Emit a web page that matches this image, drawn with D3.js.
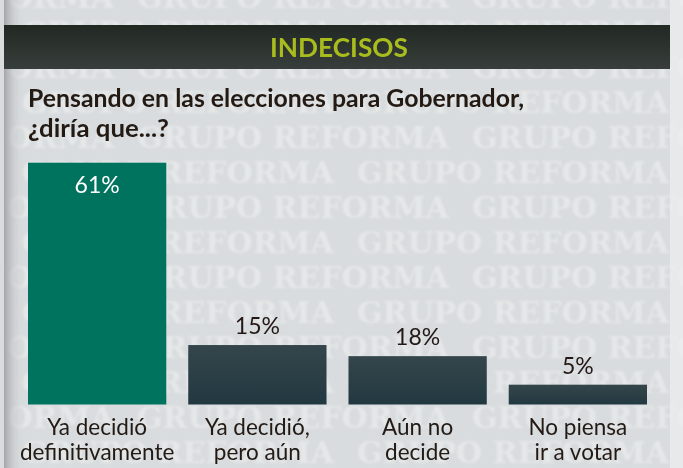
<!DOCTYPE html>
<html>
<head>
<meta charset="utf-8">
<script src="https://cdn.jsdelivr.net/npm/d3@7"></script>
<style>
  html, body { margin: 0; padding: 0; background: #dadddf; }
  svg { display: block; }
</style>
</head>
<body>
<div id="chart"></div>
<script>
// chart data
var categories = [
    ["Ya decidió", "definitivamente"],
    ["Ya decidió,", "pero aún", "podría cambiar"],
    ["Aún no", "decide", "por quién"],
    ["No piensa", "ir a votar"]
];
var percentLabels = ["61%", "15%", "18%", "5%"];
// bar lengths as printed (the 18% bar is drawn shorter in the source graphic)
var barValues = [61, 15, 12.2, 5];
var title = "INDECISOS";
var subtitle = ["Pensando en las elecciones para Gobernador,", "¿diría que...?"];
var watermark = "GRUPO REFORMA";

var width = 683, height = 468;

var svg = d3.select("#chart").append("svg")
    .attr("width", width)
    .attr("height", height);

var defs = svg.append("defs");

var hdrGrad = defs.append("linearGradient").attr("id", "hdrGrad")
    .attr("x1", 0).attr("y1", 0).attr("x2", 0).attr("y2", 1);
hdrGrad.append("stop").attr("offset", "0%").attr("stop-color", "#222822");
hdrGrad.append("stop").attr("offset", "100%").attr("stop-color", "#383e3b");

var barGrad = defs.append("linearGradient").attr("id", "barGrad")
    .attr("x1", 0).attr("y1", 0).attr("x2", 0).attr("y2", 1);
barGrad.append("stop").attr("offset", "0%").attr("stop-color", "#34464b");
barGrad.append("stop").attr("offset", "100%").attr("stop-color", "#223840");

var shadow = defs.append("linearGradient").attr("id", "shadow")
    .attr("x1", 0).attr("y1", 0).attr("x2", 1).attr("y2", 0);
shadow.append("stop").attr("offset", "0%").attr("stop-color", "#a4a6a8").attr("stop-opacity", 1);
shadow.append("stop").attr("offset", "100%").attr("stop-color", "#dadddf").attr("stop-opacity", 0);

defs.append("filter").attr("id", "soft")
    .append("feGaussianBlur").attr("stdDeviation", 1.1);

// background
svg.append("rect").attr("width", width).attr("height", height).attr("fill", "#d9dcde");

// watermark rows
var wm = svg.append("g").attr("filter", "url(#soft)");
for (var r = -5; r < 10; r++) {
    var cy = 172 + r * 35;
    var offset = (r % 2 === 0) ? 22 : 137;
    for (var x0 = offset - 335; x0 < width; x0 += 335) {
        wm.append("text")
            .attr("x", x0)
            .attr("y", cy + 11)
            .attr("textLength", 312)
            .attr("lengthAdjust", "spacingAndGlyphs")
            .style("font-family", "'DejaVu Serif', serif")
            .style("font-weight", "bold")
            .style("font-size", "30px")
            .style("fill", "#f2f3f4")
            .style("opacity", 0.5)
            .text(watermark);
    }
}

// page edges
svg.append("rect").attr("x", 0).attr("width", 4).attr("height", height).attr("fill", "#d9dbdd");
svg.append("rect").attr("x", 4).attr("width", 20).attr("height", height).attr("fill", "url(#shadow)");
svg.append("rect").attr("x", 670).attr("width", 13).attr("height", height)
    .attr("fill", "#eceef0").attr("opacity", 0.7);

// header band
svg.append("rect")
    .attr("x", 4).attr("y", 25)
    .attr("width", 666).attr("height", 44)
    .attr("fill", "url(#hdrGrad)");

function fitText(sel, len) {
    sel.attr("textLength", len).attr("lengthAdjust", "spacingAndGlyphs");
}

svg.append("text")
    .attr("x", 270).attr("y", 57)
    .style("font-family", "Lato, sans-serif")
    .style("font-weight", "bold")
    .style("font-size", "26px")
    .style("fill", "#a8bc1e")
    .call(fitText, 138)
    .text(title);

// subtitle
var subLens = [496, 141];
subtitle.forEach(function(line, i) {
    svg.append("text")
        .attr("x", 28).attr("y", 107 + i * 30)
        .style("font-family", "Lato, sans-serif")
        .style("font-weight", "bold")
        .style("font-size", "25px")
        .style("fill", "#231a14")
        .call(fitText, subLens[i])
        .text(line);
});

// scales
var x = d3.scaleBand()
    .domain(d3.range(categories.length))
    .range([28, 647])
    .paddingInner(0.137)
    .paddingOuter(0);

var y = d3.scaleLinear()
    .domain([0, 61])
    .range([404.5, 162.7]);

// bars
svg.selectAll(".bar")
    .data(barValues)
    .enter().append("rect")
    .attr("class", "bar")
    .attr("x", function(d, i) { return x(i); })
    .attr("y", function(d) { return y(d); })
    .attr("width", x.bandwidth())
    .attr("height", function(d) { return y(0) - y(d); })
    .attr("fill", function(d, i) { return i === 0 ? "#00735e" : "url(#barGrad)"; });

// value labels
svg.selectAll(".val")
    .data(barValues)
    .enter().append("text")
    .attr("class", "val")
    .attr("x", function(d, i) { return x(i) + x.bandwidth() / 2; })
    .attr("y", function(d, i) { return i === 0 ? y(d) + 30 : y(d) - 11; })
    .attr("text-anchor", "middle")
    .style("font-family", "Lato, sans-serif")
    .style("font-size", "23px")
    .style("fill", function(d, i) { return i === 0 ? "#ffffff" : "#231815"; })
    .text(function(d, i) { return percentLabels[i]; });

// category labels
categories.forEach(function(lines, i) {
    lines.forEach(function(line, j) {
        svg.append("text")
            .attr("x", x(i) + x.bandwidth() / 2)
            .attr("y", 435 + j * 25)
            .attr("text-anchor", "middle")
            .style("font-family", "Lato, sans-serif")
            .style("font-size", "22.5px")
            .style("fill", "#231a14")
            .text(line);
    });
});
</script>
</body>
</html>
